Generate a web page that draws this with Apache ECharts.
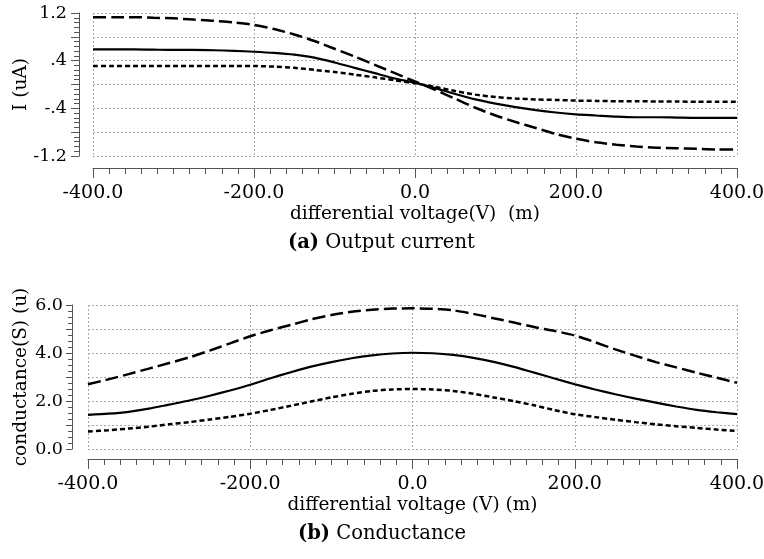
<!DOCTYPE html>
<html lang="en">
<head>
    <meta charset="UTF-8">
    <script src="https://cdn.jsdelivr.net/npm/echarts@6.0.0/dist/echarts.min.js"></script>
    <title>Output current / Conductance</title>
    <style>
        html, body { margin: 0; padding: 0; background: #fff; }
    </style>
</head>
<body>
<div id="main" style="width: 764px;height:559px;"></div>
<script type="text/javascript">
    // differential voltage (mV), shared by both plots
    var voltage = [-400, -375, -350, -325, -300, -275, -250, -225, -200, -175, -150, -125, -100, -75, -50, -25,
        0, 25, 50, 75, 100, 125, 150, 175, 200, 225, 250, 275, 300, 325, 350, 375, 400];

    // (a) output current (uA)
    var currentLongDash = [1.13, 1.13, 1.13, 1.12, 1.11, 1.09, 1.07, 1.04, 1.00, 0.93, 0.84, 0.73, 0.60, 0.47, 0.33, 0.19,
        0.05, -0.09, -0.24, -0.39, -0.52, -0.63, -0.73, -0.83, -0.91, -0.97, -1.01, -1.04, -1.06, -1.07, -1.08, -1.09, -1.09];
    var currentSolid = [0.59, 0.59, 0.59, 0.585, 0.58, 0.58, 0.575, 0.565, 0.55, 0.53, 0.50, 0.45, 0.37, 0.28, 0.19, 0.10,
        0.03, -0.06, -0.16, -0.25, -0.32, -0.38, -0.43, -0.47, -0.50, -0.52, -0.54, -0.55, -0.55, -0.555, -0.56, -0.56, -0.56];
    var currentShortDash = [0.31, 0.31, 0.31, 0.31, 0.31, 0.31, 0.31, 0.31, 0.31, 0.30, 0.28, 0.245, 0.21, 0.165, 0.12, 0.07,
        0.02, -0.04, -0.11, -0.17, -0.21, -0.235, -0.25, -0.26, -0.27, -0.275, -0.28, -0.28, -0.285, -0.285, -0.29, -0.29, -0.29];

    // (b) conductance (uS)
    var condLongDash = [2.70, 2.90, 3.12, 3.35, 3.58, 3.82, 4.10, 4.40, 4.70, 4.95, 5.17, 5.40, 5.58, 5.72, 5.80, 5.85,
        5.86, 5.84, 5.78, 5.63, 5.45, 5.27, 5.08, 4.92, 4.73, 4.45, 4.15, 3.88, 3.62, 3.40, 3.18, 2.97, 2.76];
    var condSolid = [1.42, 1.47, 1.55, 1.68, 1.85, 2.02, 2.22, 2.44, 2.68, 2.95, 3.20, 3.43, 3.62, 3.78, 3.90, 3.98,
        4.01, 3.99, 3.92, 3.80, 3.63, 3.42, 3.18, 2.94, 2.70, 2.48, 2.28, 2.10, 1.93, 1.77, 1.63, 1.53, 1.45];
    var condShortDash = [0.73, 0.78, 0.85, 0.93, 1.03, 1.12, 1.23, 1.34, 1.47, 1.63, 1.80, 1.98, 2.15, 2.30, 2.42, 2.48,
        2.50, 2.48, 2.42, 2.30, 2.15, 1.99, 1.82, 1.62, 1.45, 1.33, 1.22, 1.12, 1.03, 0.95, 0.88, 0.81, 0.75];

    var xTicks = [-400, -200, 0, 200, 400];

    var serif = 'DejaVu Serif';

    function pairs(ys) {
        var out = [];
        for (var i = 0; i < voltage.length; i++) {
            out.push([voltage[i], ys[i]]);
        }
        return out;
    }

    function line(name, ys, idx, type, width) {
        return {
            name: name,
            type: 'line',
            xAxisIndex: idx,
            yAxisIndex: idx,
            data: pairs(ys),
            smooth: 0.25,
            showSymbol: false,
            symbol: 'none',
            lineStyle: { color: '#000', width: width, type: type },
            z: 5
        };
    }

    var gridLine = { show: true, lineStyle: { color: '#aaa', width: 1, type: [2, 2] } };

    function xAxisFor(idx, offset, nameText) {
        return {
            type: 'value',
            gridIndex: idx,
            min: xTicks[0],
            max: xTicks[xTicks.length - 1],
            interval: 200,
            offset: offset,
            name: nameText,
            nameLocation: 'middle',
            nameGap: 37,
            nameTextStyle: { fontFamily: serif, fontSize: 18.5, color: '#000' },
            axisLine: { show: true, onZero: false, lineStyle: { color: '#555', width: 1 } },
            axisTick: { show: true, length: 10, lineStyle: { color: '#555' } },
            minorTick: { show: true, splitNumber: 10, length: 6, lineStyle: { color: '#555' } },
            axisLabel: {
                fontFamily: serif, fontSize: 19, color: '#000', margin: 16,
                formatter: function (v) { return v.toFixed(1); }
            },
            splitLine: gridLine
        };
    }

    var myChart = echarts.init(document.getElementById('main'));

    var option = {
        backgroundColor: '#fff',
        animation: false,
        grid: [
            { left: 93, right: 27, top: 13, height: 143, containLabel: false, outerBoundsMode: 'none' },
            { left: 88, right: 27, top: 305, height: 144, containLabel: false, outerBoundsMode: 'none' }
        ],
        xAxis: [
            xAxisFor(0, 12, 'differential voltage(V)  (m)'),
            xAxisFor(1, 10, 'differential voltage (V) (m)')
        ],
        yAxis: [
            {
                type: 'value',
                gridIndex: 0,
                min: -1.2,
                max: 1.2,
                interval: 0.4,
                offset: 14,
                name: 'I (uA)',
                nameLocation: 'middle',
                nameGap: 48,
                nameMoveOverlap: false,
                nameTextStyle: { fontFamily: serif, fontSize: 18.5, color: '#000' },
                axisLine: { show: true, onZero: false, lineStyle: { color: '#555', width: 1 } },
                axisTick: { show: true, length: 8, lineStyle: { color: '#555' } },
                minorTick: { show: true, splitNumber: 5, length: 5, lineStyle: { color: '#555' } },
                axisLabel: {
                    fontFamily: serif, fontSize: 17.5, color: '#000', margin: 12,
                    formatter: function (v, i) {
                        if (i % 2 !== 0) return '';
                        var s = (Math.round(v * 10) / 10).toString();
                        return s.replace(/^(-?)0\./, '$1.');
                    }
                },
                splitLine: gridLine
            },
            {
                type: 'value',
                gridIndex: 1,
                min: 0,
                max: 6,
                interval: 1,
                offset: 16,
                name: 'conductance(S) (u)',
                nameLocation: 'middle',
                nameGap: 41,
                nameMoveOverlap: false,
                nameTextStyle: { fontFamily: serif, fontSize: 18.5, color: '#000' },
                axisLine: { show: true, onZero: false, lineStyle: { color: '#555', width: 1 } },
                axisTick: { show: true, length: 6, lineStyle: { color: '#555' } },
                minorTick: { show: true, splitNumber: 4, length: 4, lineStyle: { color: '#555' } },
                axisLabel: {
                    fontFamily: serif, fontSize: 17.5, color: '#000', margin: 9,
                    formatter: function (v, i) {
                        return i % 2 === 0 ? v.toFixed(1) : '';
                    }
                },
                splitLine: gridLine
            }
        ],
        graphic: [
            {
                type: 'text', left: 288, top: 233,
                style: {
                    text: '{b|(a)} Output current',
                    fontFamily: serif, fontSize: 19.5, fill: '#000',
                    rich: { b: { fontFamily: serif, fontSize: 19.5, fontWeight: 'bold' } }
                }
            },
            {
                type: 'text', left: 298, top: 524,
                style: {
                    text: '{b|(b)} Conductance',
                    fontFamily: serif, fontSize: 19.5, fill: '#000',
                    rich: { b: { fontFamily: serif, fontSize: 19.5, fontWeight: 'bold' } }
                }
            }
        ],
        series: [
            line('I long dash', currentLongDash, 0, [13, 5], 2.5),
            line('I solid', currentSolid, 0, 'solid', 2.2),
            line('I short dash', currentShortDash, 0, [5, 3], 2.5),
            line('G long dash', condLongDash, 1, [13, 5], 2.5),
            line('G solid', condSolid, 1, 'solid', 2.2),
            line('G short dash', condShortDash, 1, [5, 3], 2.5)
        ]
    };

    myChart.setOption(option);
</script>
</body>
</html>
